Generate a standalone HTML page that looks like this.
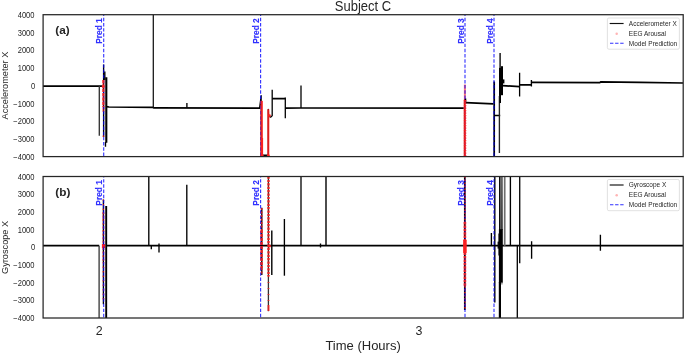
<!DOCTYPE html>
<html><head><meta charset="utf-8"><style>
html,body{margin:0;padding:0;background:#fff;}
body{width:685px;height:354px;overflow:hidden;}
svg{display:block;will-change:transform;filter:blur(0.3px);font-family:"Liberation Sans", sans-serif;}
</style></head><body>
<svg width="685" height="354" viewBox="0 0 685 354">
<rect width="685" height="354" fill="#fff"/>
<text transform="translate(34.50 17.87) scale(0.97 1.1)" font-size="7.8" text-anchor="end" fill="#262626" >4000</text>
<text transform="translate(34.50 35.61) scale(0.97 1.1)" font-size="7.8" text-anchor="end" fill="#262626" >3000</text>
<text transform="translate(34.50 53.34) scale(0.97 1.1)" font-size="7.8" text-anchor="end" fill="#262626" >2000</text>
<text transform="translate(34.50 71.08) scale(0.97 1.1)" font-size="7.8" text-anchor="end" fill="#262626" >1000</text>
<text transform="translate(35.30 88.82) scale(0.97 1.1)" font-size="7.8" text-anchor="end" fill="#262626" >0</text>
<text transform="translate(34.50 106.56) scale(0.97 1.1)" font-size="7.8" text-anchor="end" fill="#262626" >−1000</text>
<text transform="translate(34.50 124.29) scale(0.97 1.1)" font-size="7.8" text-anchor="end" fill="#262626" >−2000</text>
<text transform="translate(34.50 142.03) scale(0.97 1.1)" font-size="7.8" text-anchor="end" fill="#262626" >−3000</text>
<text transform="translate(34.50 159.77) scale(0.97 1.1)" font-size="7.8" text-anchor="end" fill="#262626" >−4000</text>
<text transform="translate(34.50 179.67) scale(0.97 1.1)" font-size="7.8" text-anchor="end" fill="#262626" >4000</text>
<text transform="translate(34.50 197.36) scale(0.97 1.1)" font-size="7.8" text-anchor="end" fill="#262626" >3000</text>
<text transform="translate(34.50 215.04) scale(0.97 1.1)" font-size="7.8" text-anchor="end" fill="#262626" >2000</text>
<text transform="translate(34.50 232.73) scale(0.97 1.1)" font-size="7.8" text-anchor="end" fill="#262626" >1000</text>
<text transform="translate(35.30 250.42) scale(0.97 1.1)" font-size="7.8" text-anchor="end" fill="#262626" >0</text>
<text transform="translate(34.50 268.11) scale(0.97 1.1)" font-size="7.8" text-anchor="end" fill="#262626" >−1000</text>
<text transform="translate(34.50 285.79) scale(0.97 1.1)" font-size="7.8" text-anchor="end" fill="#262626" >−2000</text>
<text transform="translate(34.50 303.48) scale(0.97 1.1)" font-size="7.8" text-anchor="end" fill="#262626" >−3000</text>
<text transform="translate(34.50 321.17) scale(0.97 1.1)" font-size="7.8" text-anchor="end" fill="#262626" >−4000</text>
<text x="99.2" y="334.6" font-size="12.4" text-anchor="middle" fill="#262626">2</text>
<text x="418.9" y="334.6" font-size="12.4" text-anchor="middle" fill="#262626">3</text>
<text x="363.1" y="350" font-size="13" text-anchor="middle" fill="#262626">Time (Hours)</text>
<text transform="translate(363.00 10.80) scale(1.0 1.07)" font-size="13" text-anchor="middle" fill="#262626" >Subject C</text>
<text transform="translate(7.90 85.60) rotate(-90) scale(1.02 1.08)" font-size="9" text-anchor="middle" fill="#262626" >Accelerometer X</text>
<text transform="translate(7.90 247.40) rotate(-90) scale(1.02 1.08)" font-size="9" text-anchor="middle" fill="#262626" >Gyroscope X</text>
<defs><linearGradient id="gburst" x1="0" y1="0" x2="0" y2="1"><stop offset="0" stop-color="#6a6a6a"/><stop offset="1" stop-color="#3a3a3a"/></linearGradient></defs>
<clipPath id="ca"><rect x="43.1" y="14.7" width="640.1" height="141.9"/></clipPath>
<clipPath id="cb"><rect x="43.1" y="176.5" width="640.1" height="141.5"/></clipPath>
<g clip-path="url(#ca)"><line x1="43" y1="86.1" x2="102.2" y2="86.1" stroke="#000" stroke-width="1.7" /><line x1="99.3" y1="86" x2="99.3" y2="135.8" stroke="#333" stroke-width="1.35" /><line x1="103.6" y1="64.5" x2="103.6" y2="137" stroke="#000" stroke-width="1.35" /><line x1="104.8" y1="71.6" x2="104.8" y2="80" stroke="#000" stroke-width="1.4" /><line x1="106.3" y1="77.3" x2="106.3" y2="142.8" stroke="#000" stroke-width="2.1" /><line x1="105.5" y1="142" x2="105.5" y2="146.7" stroke="#000" stroke-width="1.35" /><path d="M106.3,106.6 L109,107.0 L153,107.4 L154,107.9 L260,108.2" fill="none" stroke="#000" stroke-width="1.7" stroke-linejoin="round" /><line x1="153.3" y1="10" x2="153.3" y2="107.6" stroke="#111" stroke-width="1.25" /><line x1="186.9" y1="103" x2="186.9" y2="107.6" stroke="#000" stroke-width="1.35" /><path d="M259.5,108.2 L261.2,95.7 L261.2,160" fill="none" stroke="#000" stroke-width="1.2" stroke-linejoin="round" /><line x1="261.5" y1="155.3" x2="268.3" y2="155.3" stroke="#000" stroke-width="1.6" /><path d="M268.3,160 L268.3,109.5 L268.6,116 L270.5,117.2 L272.2,116" fill="none" stroke="#000" stroke-width="1.3" stroke-linejoin="round" /><line x1="272.2" y1="89.7" x2="272.2" y2="116" stroke="#000" stroke-width="1.3" /><line x1="272.2" y1="98.6" x2="285.3" y2="98.6" stroke="#000" stroke-width="1.7" /><line x1="285.3" y1="97.4" x2="285.3" y2="118.3" stroke="#000" stroke-width="1.3" /><path d="M285.3,108.2 L300.4,108.0 L463.8,108.1" fill="none" stroke="#000" stroke-width="1.7" stroke-linejoin="round" /><line x1="301.0" y1="85.4" x2="301.0" y2="108" stroke="#000" stroke-width="1.3" /><line x1="464.6" y1="99.2" x2="464.6" y2="160" stroke="#000" stroke-width="1.3" /><line x1="464.9" y1="84.5" x2="464.9" y2="100" stroke="#ff2020" stroke-width="2.0" opacity="0.6"/><line x1="465.6" y1="98.5" x2="465.6" y2="103.5" stroke="#000" stroke-width="1.35" /><path d="M465.6,102.7 L493.5,103.9" fill="none" stroke="#000" stroke-width="1.7" stroke-linejoin="round" /><line x1="494.2" y1="81.6" x2="494.2" y2="160" stroke="#000" stroke-width="1.7" /><line x1="494.3" y1="115.5" x2="500.2" y2="115.5" stroke="#000" stroke-width="1.4" /><line x1="499.4" y1="96" x2="499.4" y2="153" stroke="#222" stroke-width="1.35" /><line x1="500.1" y1="52.9" x2="500.1" y2="68" stroke="#000" stroke-width="1.35" /><rect x="499" y="67.9" width="2" height="28" fill="#000"/><rect x="501" y="66.2" width="2" height="29" fill="#000"/><rect x="503" y="79.4" width="1.4" height="4" fill="#000"/><line x1="500.2" y1="95" x2="500.2" y2="103" stroke="#000" stroke-width="1.6" /><path d="M502.5,85.6 L519.6,86.6" fill="none" stroke="#000" stroke-width="1.7" stroke-linejoin="round" /><line x1="519.6" y1="72.8" x2="519.6" y2="96.4" stroke="#000" stroke-width="1.3" /><line x1="519.6" y1="84.8" x2="531.4" y2="84.8" stroke="#000" stroke-width="1.7" /><line x1="531.4" y1="79.9" x2="531.4" y2="86.6" stroke="#000" stroke-width="1.35" /><path d="M531.4,82.4 L600,82.7 L600.5,81.8 L640,82.4 L683,83.0" fill="none" stroke="#000" stroke-width="1.7" stroke-linejoin="round" /><line x1="103.4" y1="107" x2="103.4" y2="112" stroke="#ff2020" stroke-width="2.0" opacity="0.6"/><circle cx="103.4" cy="136.2" r="0.9" fill="#ff2020" opacity="0.7"/><line x1="103.7" y1="155.90" x2="103.7" y2="14.7" stroke="#0000ff" stroke-opacity="0.78" stroke-width="1.15" stroke-dasharray="3.45 1.73"/><text transform="translate(102.40 18.25) rotate(-90)" font-size="8.4" font-weight="bold" text-anchor="end" fill="#3030ff" stroke="#3030ff" stroke-width="0.12">Pred 1</text><line x1="260.6" y1="155.90" x2="260.6" y2="14.7" stroke="#0000ff" stroke-opacity="0.78" stroke-width="1.15" stroke-dasharray="3.45 1.73"/><text transform="translate(259.30 18.25) rotate(-90)" font-size="8.4" font-weight="bold" text-anchor="end" fill="#3030ff" stroke="#3030ff" stroke-width="0.12">Pred 2</text><line x1="465.0" y1="155.90" x2="465.0" y2="14.7" stroke="#0000ff" stroke-opacity="0.78" stroke-width="1.15" stroke-dasharray="3.45 1.73"/><text transform="translate(463.70 18.25) rotate(-90)" font-size="8.4" font-weight="bold" text-anchor="end" fill="#3030ff" stroke="#3030ff" stroke-width="0.12">Pred 3</text><line x1="494.0" y1="155.90" x2="494.0" y2="14.7" stroke="#0000ff" stroke-opacity="0.78" stroke-width="1.15" stroke-dasharray="3.45 1.73"/><text transform="translate(492.70 18.25) rotate(-90)" font-size="8.4" font-weight="bold" text-anchor="end" fill="#3030ff" stroke="#3030ff" stroke-width="0.12">Pred 4</text><line x1="261.7" y1="100.8" x2="261.7" y2="160" stroke="#ff2020" stroke-width="2.5" opacity="0.85"/><line x1="262.2" y1="138" x2="262.2" y2="160" stroke="#ff2020" stroke-width="1.8" /><line x1="268.3" y1="109.3" x2="268.3" y2="160" stroke="#ff2020" stroke-width="2.1" opacity="0.85"/><circle cx="269.5" cy="115.6" r="1.3" fill="#ff2020"/><circle cx="262.2" cy="155.6" r="1.4" fill="#ff2020"/><circle cx="268.3" cy="155.6" r="1.4" fill="#ff2020"/><line x1="464.8" y1="100" x2="464.8" y2="160" stroke="#ff2020" stroke-width="2.2" opacity="0.8"/><line x1="465.1" y1="100" x2="465.1" y2="160" stroke="#ff2020" stroke-width="2.6" stroke-dasharray="1.2 1.3" opacity="0.7"/><line x1="103.3" y1="80" x2="103.3" y2="107" stroke="#ff2020" stroke-width="2.3" stroke-dasharray="3.5 0.8" opacity="0.85"/><circle cx="103.2" cy="86.6" r="1.4" fill="#ff2020"/></g>
<g clip-path="url(#cb)"><line x1="43" y1="245.7" x2="99.2" y2="245.7" stroke="#000" stroke-width="1.8" /><line x1="99.1" y1="245.7" x2="99.1" y2="322" stroke="#333" stroke-width="1.3" /><line x1="103.4" y1="199.5" x2="103.4" y2="304.3" stroke="#000" stroke-width="1.35" /><line x1="106.2" y1="205.9" x2="106.2" y2="322" stroke="#000" stroke-width="1.9" /><line x1="106.2" y1="245.7" x2="683" y2="245.7" stroke="#000" stroke-width="1.8" /><line x1="148.8" y1="170" x2="148.8" y2="245.7" stroke="#000" stroke-width="1.35" /><line x1="151.3" y1="245.7" x2="151.3" y2="249.2" stroke="#000" stroke-width="1.35" /><line x1="159.0" y1="243.5" x2="159.0" y2="252.6" stroke="#000" stroke-width="1.35" /><line x1="186.8" y1="184.8" x2="186.8" y2="245.7" stroke="#000" stroke-width="1.35" /><line x1="261.8" y1="207.8" x2="261.8" y2="275" stroke="#000" stroke-width="1.35" /><line x1="268.4" y1="170" x2="268.4" y2="311.2" stroke="#333" stroke-width="1.3" /><line x1="271.8" y1="230.4" x2="271.8" y2="275.0" stroke="#000" stroke-width="1.4" /><line x1="284.4" y1="219.0" x2="284.4" y2="275.7" stroke="#000" stroke-width="1.35" /><line x1="301.0" y1="170" x2="301.0" y2="245.7" stroke="#000" stroke-width="1.3" /><line x1="326.0" y1="170" x2="326.0" y2="245.7" stroke="#000" stroke-width="1.4" /><line x1="320.5" y1="243.5" x2="320.5" y2="247.5" stroke="#000" stroke-width="1.35" /><line x1="464.8" y1="170" x2="464.8" y2="310.0" stroke="#000" stroke-width="1.7" /><line x1="491.4" y1="233" x2="491.4" y2="245.7" stroke="#000" stroke-width="1.35" /><line x1="494.8" y1="170" x2="494.8" y2="302.5" stroke="#000" stroke-width="1.4" /><line x1="499.8" y1="170" x2="499.8" y2="322" stroke="#000" stroke-width="1.5" /><rect x="500.5" y="170" width="2.3" height="60" fill="url(#gburst)"/><rect x="498.9" y="229.2" width="3.9" height="53.6" fill="#000"/><rect x="498.0" y="233.5" width="0.9" height="22" fill="#555"/><rect x="497.6" y="241.6" width="1.3" height="7" fill="#000"/><rect x="501.3" y="282.5" width="1.2" height="2" fill="#777"/><line x1="499.9" y1="282" x2="499.9" y2="322" stroke="#000" stroke-width="2.2" /><line x1="504.7" y1="170" x2="504.7" y2="245.7" stroke="#6e6e6e" stroke-width="1.7" /><line x1="510.4" y1="170" x2="510.4" y2="245.7" stroke="#000" stroke-width="1.35" /><line x1="517.3" y1="245.7" x2="517.3" y2="322" stroke="#000" stroke-width="1.3" /><line x1="519.7" y1="170" x2="519.7" y2="263.3" stroke="#111" stroke-width="1.4" /><line x1="531.6" y1="241.3" x2="531.6" y2="258.8" stroke="#000" stroke-width="1.35" /><line x1="600.4" y1="234.8" x2="600.4" y2="250.7" stroke="#000" stroke-width="1.35" /><line x1="103.4" y1="199.5" x2="103.4" y2="220" stroke="#ff2020" stroke-width="1.6" stroke-dasharray="1.5 3" opacity="0.7"/><line x1="103.3" y1="212" x2="103.3" y2="262" stroke="#ff2020" stroke-width="2.2" stroke-dasharray="2 1.6" opacity="0.55"/><line x1="103.4" y1="262" x2="103.4" y2="300" stroke="#ff2020" stroke-width="2.0" stroke-dasharray="1.5 3" opacity="0.6"/><line x1="103.5" y1="244" x2="103.5" y2="248" stroke="#ff2020" stroke-width="3.2" /><line x1="268.5" y1="176.5" x2="268.5" y2="276" stroke="#ff2020" stroke-width="2.6" stroke-dasharray="2.2 1.2" opacity="0.85"/><line x1="268.5" y1="276" x2="268.5" y2="305" stroke="#ff2020" stroke-width="2.0" stroke-dasharray="1 5" opacity="0.7"/><line x1="268.5" y1="305" x2="268.5" y2="311" stroke="#ff2020" stroke-width="2.0" opacity="0.8"/><circle cx="269.4" cy="245.9" r="1.5" fill="#ff2020"/><line x1="465.0" y1="286" x2="465.0" y2="310" stroke="#ff2020" stroke-width="1.8" stroke-dasharray="1.5 1.5" opacity="0.7"/><line x1="103.7" y1="317.30" x2="103.7" y2="176.5" stroke="#0000ff" stroke-opacity="0.78" stroke-width="1.15" stroke-dasharray="3.45 1.73"/><text transform="translate(102.40 180.05) rotate(-90)" font-size="8.4" font-weight="bold" text-anchor="end" fill="#3030ff" stroke="#3030ff" stroke-width="0.12">Pred 1</text><line x1="260.6" y1="317.30" x2="260.6" y2="176.5" stroke="#0000ff" stroke-opacity="0.78" stroke-width="1.15" stroke-dasharray="3.45 1.73"/><text transform="translate(259.30 180.05) rotate(-90)" font-size="8.4" font-weight="bold" text-anchor="end" fill="#3030ff" stroke="#3030ff" stroke-width="0.12">Pred 2</text><line x1="465.0" y1="317.30" x2="465.0" y2="176.5" stroke="#0000ff" stroke-opacity="0.78" stroke-width="1.15" stroke-dasharray="3.45 1.73"/><text transform="translate(463.70 180.05) rotate(-90)" font-size="8.4" font-weight="bold" text-anchor="end" fill="#3030ff" stroke="#3030ff" stroke-width="0.12">Pred 3</text><line x1="494.0" y1="317.30" x2="494.0" y2="176.5" stroke="#0000ff" stroke-opacity="0.78" stroke-width="1.15" stroke-dasharray="3.45 1.73"/><text transform="translate(492.70 180.05) rotate(-90)" font-size="8.4" font-weight="bold" text-anchor="end" fill="#3030ff" stroke="#3030ff" stroke-width="0.12">Pred 4</text><line x1="261.7" y1="208" x2="261.7" y2="230" stroke="#ff2020" stroke-width="2.0" stroke-dasharray="2 1.5" opacity="0.7"/><line x1="261.6" y1="230" x2="261.6" y2="268" stroke="#ff2020" stroke-width="2.8" stroke-dasharray="3 1" opacity="0.8"/><line x1="261.7" y1="268" x2="261.7" y2="275" stroke="#ff2020" stroke-width="2.0" stroke-dasharray="2 1.5" opacity="0.7"/><line x1="465.0" y1="176.5" x2="465.0" y2="222" stroke="#ff2020" stroke-width="2.0" stroke-dasharray="1.5 1.5" opacity="0.55"/><line x1="464.9" y1="222" x2="464.9" y2="286" stroke="#ff2020" stroke-width="2.7" stroke-dasharray="2.5 0.9" opacity="0.85"/><line x1="464.9" y1="240" x2="464.9" y2="253" stroke="#ff2020" stroke-width="3.6" opacity="0.9"/></g>
<rect x="43.1" y="14.7" width="640.1" height="141.9" fill="none" stroke="#262626" stroke-width="1.25"/>
<rect x="43.1" y="176.5" width="640.1" height="141.5" fill="none" stroke="#262626" stroke-width="1.25"/>
<text x="55.3" y="34.0" font-size="11.8" font-weight="bold" fill="#262626">(a)</text>
<text x="55.3" y="195.8" font-size="11.8" font-weight="bold" fill="#262626">(b)</text>
<rect x="607.4" y="18.0" width="72" height="31.2" rx="1.5" fill="#fff" fill-opacity="0.8" stroke="#d9d9d9" stroke-width="0.8"/>
<line x1="609.7" y1="23.5" x2="623.6" y2="23.5" stroke="#111" stroke-width="1.15"/>
<circle cx="616.7" cy="33.7" r="1.25" fill="#ffb4b4"/>
<line x1="610" y1="43.3" x2="623.6" y2="43.3" stroke="#3030ff" stroke-width="1.05" stroke-dasharray="3.4 1.7"/>
<text transform="translate(628.80 25.90) scale(1.0 1.1)" font-size="6.5" text-anchor="start" fill="#262626" >Accelerometer X</text>
<text transform="translate(628.80 35.80) scale(1.0 1.1)" font-size="6.5" text-anchor="start" fill="#262626" >EEG Arousal</text>
<text transform="translate(628.80 45.70) scale(1.0 1.1)" font-size="6.5" text-anchor="start" fill="#262626" >Model Prediction</text>
<rect x="607.4" y="179.5" width="72" height="31.2" rx="1.5" fill="#fff" fill-opacity="0.8" stroke="#d9d9d9" stroke-width="0.8"/>
<line x1="609.7" y1="185.0" x2="623.6" y2="185.0" stroke="#111" stroke-width="1.15"/>
<circle cx="616.7" cy="195.2" r="1.25" fill="#ffb4b4"/>
<line x1="610" y1="204.8" x2="623.6" y2="204.8" stroke="#3030ff" stroke-width="1.05" stroke-dasharray="3.4 1.7"/>
<text transform="translate(628.80 187.40) scale(1.0 1.1)" font-size="6.5" text-anchor="start" fill="#262626" >Gyroscope X</text>
<text transform="translate(628.80 197.30) scale(1.0 1.1)" font-size="6.5" text-anchor="start" fill="#262626" >EEG Arousal</text>
<text transform="translate(628.80 207.20) scale(1.0 1.1)" font-size="6.5" text-anchor="start" fill="#262626" >Model Prediction</text>
</svg>
</body></html>
